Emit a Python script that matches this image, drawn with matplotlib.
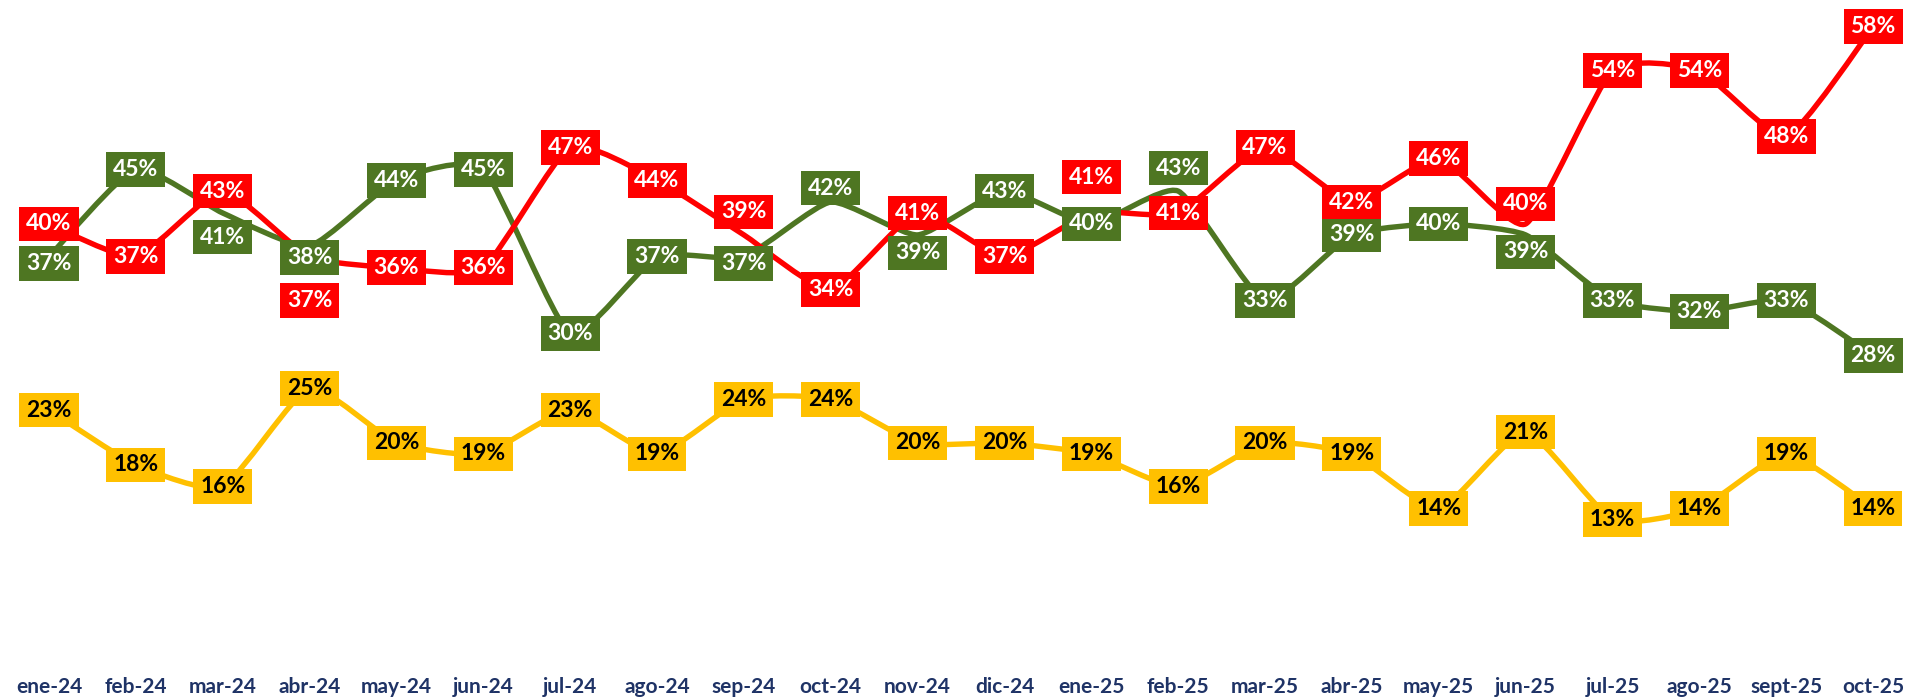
import numpy as np
import matplotlib
matplotlib.use("Agg")
from matplotlib import pyplot as plt
from matplotlib.path import Path
from matplotlib.patches import PathPatch

months = ["ene-24", "feb-24", "mar-24", "abr-24", "may-24", "jun-24", "jul-24", "ago-24",
          "sep-24", "oct-24", "nov-24", "dic-24", "ene-25", "feb-25", "mar-25", "abr-25",
          "may-25", "jun-25", "jul-25", "ago-25", "sept-25", "oct-25"]
red = [40, 37, 43, 37, 36, 36, 47, 44, 39, 34, 41, 37, 41, 41, 47, 42, 46, 40, 54, 54, 48, 58]
green = [37, 45, 41, 38, 44, 45, 30, 37, 37, 42, 39, 43, 40, 43, 33, 39, 40, 39, 33, 32, 33, 28]
yellow = [23, 18, 16, 25, 20, 19, 23, 19, 24, 24, 20, 20, 19, 16, 20, 19, 14, 21, 13, 14, 19, 14]

RED = "#FF0000"
GREEN = "#4E7622"
YELLOW = "#FFC000"
NAVY = "#1F3366"

# label nudges in pixels (positive = down), where the labels were moved off the point
red_nudge = {3: 44, 8: -23, 12: -36, 17: -20}
green_nudge = {0: 7, 2: 24, 3: 12, 8: 7, 9: -14, 10: 18, 13: -23, 17: 17}
yellow_nudge = {}

plt.rcParams["font.family"] = ["Lato", "DejaVu Sans"]

fig = plt.figure(figsize=(19.07, 6.98), dpi=100)
ax = fig.add_axes([0, 36 / 698, 1, 662 / 698])
x = np.arange(len(months))


def smooth_line(ax, xs, ys, color, z):
    # excel-like smoothed line: cubic bezier segments through the points
    pts = np.column_stack([xs, ys]).astype(float)
    verts = [pts[0]]
    codes = [Path.MOVETO]
    n = len(pts)
    k = 0.09
    for i in range(n - 1):
        p0 = pts[i - 1] if i > 0 else pts[i]
        p1 = pts[i]
        p2 = pts[i + 1]
        p3 = pts[i + 2] if i + 2 < n else pts[i + 1]
        c1 = p1 + (p2 - p0) * k
        c2 = p2 - (p3 - p1) * k
        verts += [c1, c2, p2]
        codes += [Path.CURVE4] * 3
    patch = PathPatch(Path(verts, codes), facecolor="none", edgecolor=color,
                      linewidth=3.9, capstyle="round", joinstyle="round", zorder=z)
    ax.add_patch(patch)


def labels(ax, xs, ys, color, txtcolor, nudge, z):
    for i, v in enumerate(ys):
        ax.annotate(f"{v}%", (xs[i], v), xytext=(0, -nudge.get(i, 0)),
                    textcoords="offset pixels", ha="center", va="center",
                    fontsize=16.5, fontweight="bold", color=txtcolor, zorder=z,
                    bbox=dict(boxstyle="square,pad=0.3", fc=color, ec="none"))


smooth_line(ax, x, green, GREEN, 2)
smooth_line(ax, x, yellow, YELLOW, 2)
smooth_line(ax, x, red, RED, 3)

labels(ax, x, green, GREEN, "white", green_nudge, 5)
labels(ax, x, yellow, YELLOW, "black", yellow_nudge, 5)
labels(ax, x, red, RED, "white", red_nudge, 6)

ax.set_xlim(-49 / 86.86, (1907 - 49) / 86.86)
ax.set_ylim(0, 60.45)
ax.set_xticks(x)
ax.set_xticklabels(months, fontsize=15, fontweight="bold", color=NAVY)
ax.tick_params(axis="x", length=0, pad=11)
ax.set_yticks([])
for s in ax.spines.values():
    s.set_visible(False)

fig.savefig("out.png", dpi=100)
